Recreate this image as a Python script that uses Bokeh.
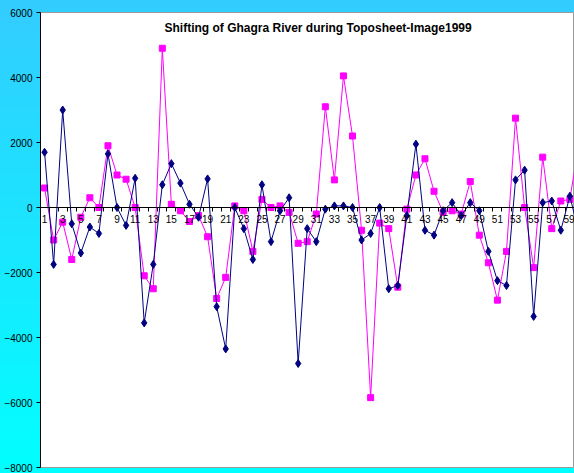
from bokeh.plotting import figure
from bokeh.models import Range1d, FixedTicker, Label, ColumnDataSource
from bokeh.embed import file_html
from bokeh.resources import INLINE

# Bank shift per section (m), measured between toposheet and 1999 image
sections = list(range(1, 61))
shift_a = [1700, -1750, 3000, -500, -1400, -600, -800, 1650, 0, -550,
           900, -3550, -1750, 700, 1350, 750, 100, -300, 880, -3050,
           -4350, 0, -650, -1600, 700, -1050, -100, 300, -4800, -650,
           -1050, -50, 50, 50, 0, -1000, -800, 0, -2500, -2400,
           -250, 1950, -700, -850, -100, 150, -250, 150, -100, -1350,
           -2250, -2400, 850, 1150, -3350, 150, 200, -700, 350, -800]
shift_b = [600, -1000, -450, -1600, -300, 300, 0, 1900, 1000, 870,
           0, -2100, -2500, 4900, 100, -100, -430, -250, -900, -2800,
           -2150, 50, -100, -1350, 250, 0, 50, -150, -1100, -1050,
           -200, 3100, 850, 4050, 2200, -700, -5850, -480, -650, -2450,
           -50, 1000, 1500, 500, -150, -100, -200, 800, -850, -1700,
           -2850, -1350, 2750, 0, -1850, 1550, -650, 200, 250, 2000]
y_ticks = [-8000, -6000, -4000, -2000, 0, 2000, 4000, 6000]
x_labels = sections[::2]
title_text = "Shifting of Ghagra River during Toposheet-Image1999"

src = ColumnDataSource(dict(x=sections, a=shift_a, b=shift_b))

p = figure(width=574, height=473, output_backend="svg", toolbar_location=None,
           x_range=Range1d(0.55, 59.51), y_range=Range1d(-8000, 6000),
           min_border_left=40, min_border_right=0, min_border_top=12,
           min_border_bottom=6)
p.title.visible = False
p.border_fill_color = None
p.styles = {"background": "linear-gradient(#33CCFF, #00FFFF)"}
p.background_fill_color = "white"
p.outline_line_color = "#9a9a9a"
p.xgrid.visible = False
p.ygrid.visible = False

FONT = "Liberation Sans"

# vertical axis
p.yaxis.ticker = FixedTicker(ticks=y_ticks)
p.yaxis.axis_line_color = "black"
p.yaxis.major_tick_line_color = "black"
p.yaxis.major_tick_out = 4
p.yaxis.major_tick_in = 0
p.yaxis.minor_tick_line_color = None
p.yaxis.major_label_text_font = FONT
p.yaxis.major_label_text_font_size = "10px"
p.yaxis.major_label_text_color = "black"
p.yaxis.major_label_standoff = 4

# category axis crossing at zero
p.xaxis.fixed_location = 0
p.xaxis.ticker = FixedTicker(ticks=x_labels,
                             minor_ticks=[s - 0.5 for s in sections] + [sections[-1] + 0.5])
p.xaxis.axis_line_color = "black"
p.xaxis.major_tick_line_color = None
p.xaxis.major_tick_out = 0
p.xaxis.major_tick_in = 0
p.xaxis.minor_tick_line_color = "black"
p.xaxis.minor_tick_out = 4
p.xaxis.minor_tick_in = 0
p.xaxis.major_label_text_font = FONT
p.xaxis.major_label_text_font_size = "10px"
p.xaxis.major_label_text_color = "black"
p.xaxis.major_label_standoff = 3

p.line("x", "b", source=src, line_color="#FF00FF", line_width=1)
p.scatter("x", "b", source=src, marker="square", size=6,
          fill_color="#FF00FF", line_color="#FF00FF")
p.line("x", "a", source=src, line_color="#000080", line_width=1)
p.scatter("x", "a", source=src, marker="diamond", size=8,
          fill_color="#000080", line_color="#000080")

p.add_layout(Label(x=31.2, y=5530, text=title_text, text_align="center",
                   text_baseline="middle", text_font=FONT,
                   text_font_size="12px", text_font_style="bold",
                   text_color="black"))

open("out.html", "w").write(file_html(p, INLINE))
